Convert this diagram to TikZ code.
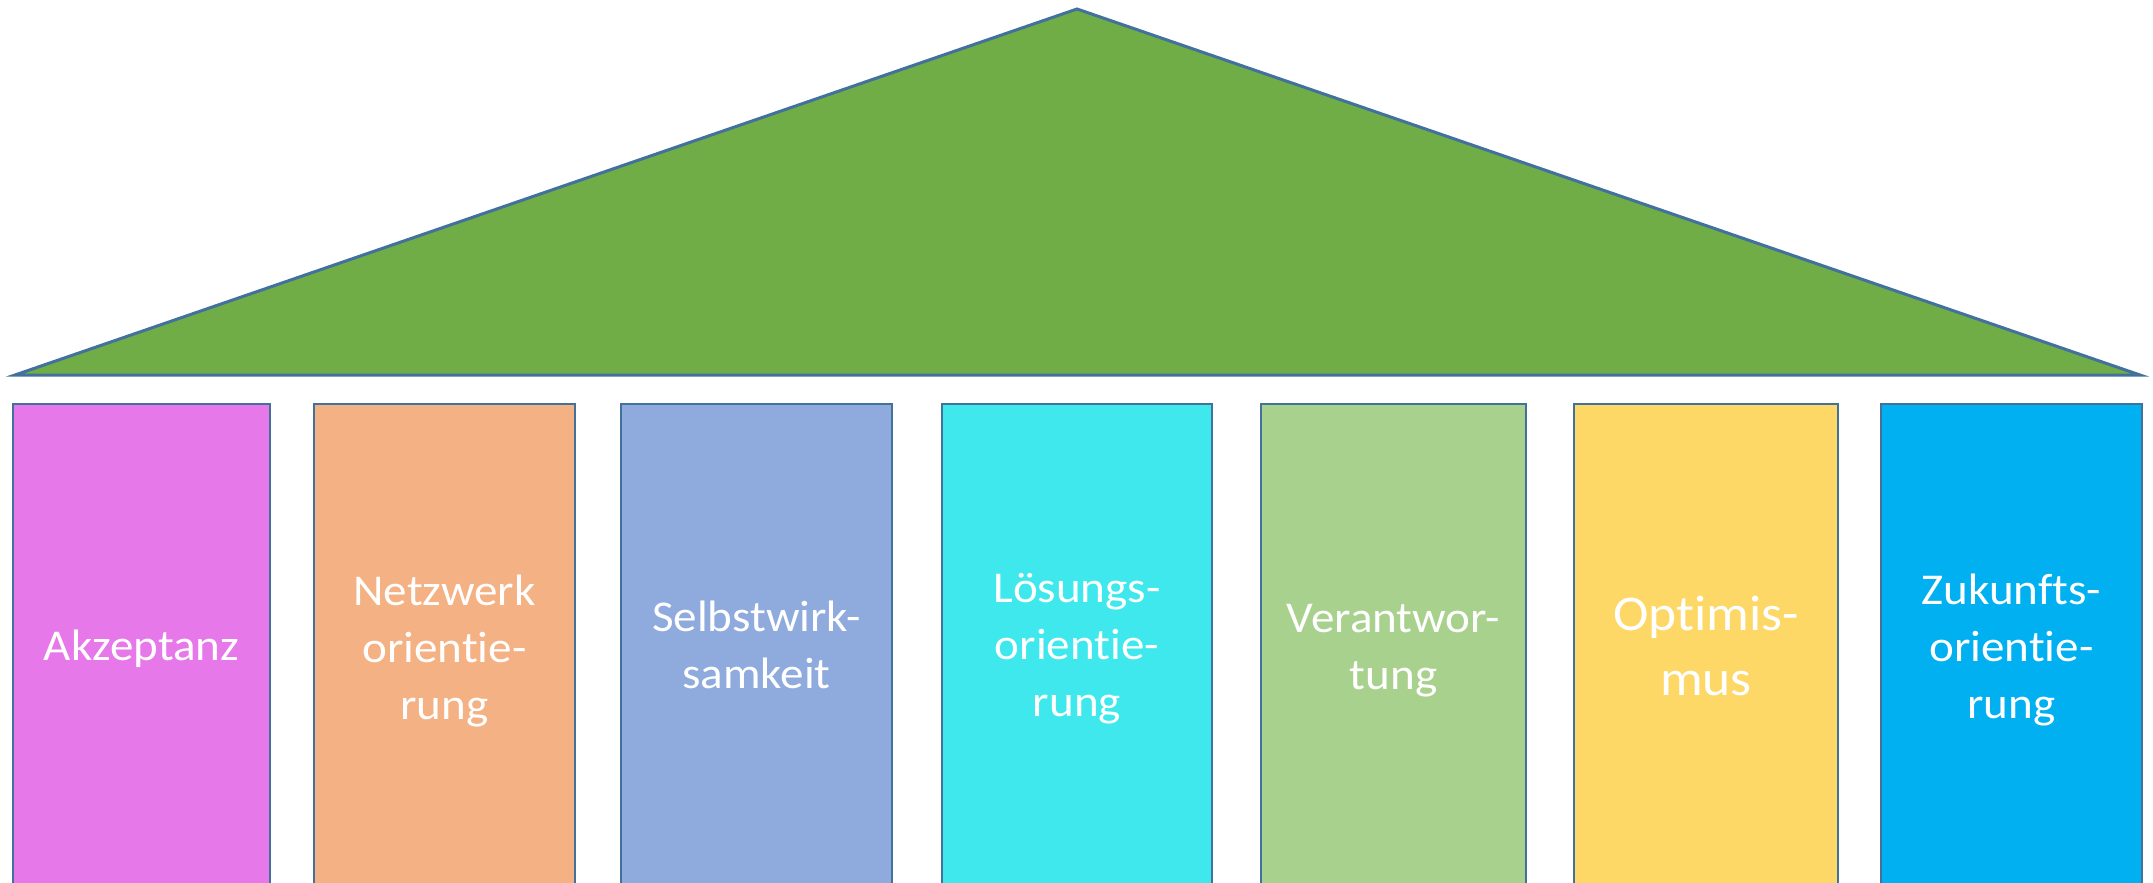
\documentclass[tikz,border=0pt]{standalone}
\usepackage{fontspec}
\setmainfont{Carlito}[FakeStretch=1.07, Ligatures=NoCommon]
\definecolor{roof}{HTML}{70AD47}
\definecolor{edge}{HTML}{41719C}
\definecolor{cA}{HTML}{E778E9}
\definecolor{cB}{HTML}{F4B183}
\definecolor{cC}{HTML}{8FAADC}
\definecolor{cD}{HTML}{3FE8EC}
\definecolor{cE}{HTML}{A9D18E}
\definecolor{cF}{HTML}{FDD867}
\definecolor{cG}{HTML}{00B0F0}
\begin{document}
\begin{tikzpicture}[x=1pt,y=-1pt,
  pillar/.style={draw=edge, line width=2.5pt},
  lbl/.style={text=white, align=center, inner sep=0pt, font=\fontsize{44}{57}\selectfont},
  biglbl/.style={text=white, align=center, inner sep=0pt, font=\fontsize{50}{65}\selectfont}]
\useasboundingbox (0,0) rectangle (2153,883);
\clip (0,0) rectangle (2153,883);
\fill[white] (0,0) rectangle (2153,883);
\draw[fill=roof, draw=edge, line width=3pt, line join=miter] (15,375) -- (1077,9) -- (2140,375) -- cycle;
\path[pillar, fill=cA] (13,404) rectangle (270,900);
\path[pillar, fill=cB] (314,404) rectangle (575,900);
\path[pillar, fill=cC] (621,404) rectangle (892,900);
\path[pillar, fill=cD] (942,404) rectangle (1212,900);
\path[pillar, fill=cE] (1261,404) rectangle (1526,900);
\path[pillar, fill=cF] (1574,404) rectangle (1838,900);
\path[pillar, fill=cG] (1881,404) rectangle (2142,900);
\node[lbl] (tA) at (141.5,648.5) {Akzeptanz};
\node[lbl] (tB) at (444.5,650.5) {Netzwerk\\orientie-\\rung};
\node[lbl] (tC) at (756.5,644.5) {Selbstwirk-\\samkeit};
\node[lbl] (tD) at (1077,649) {Lösungs-\\orientie-\\rung};
\node[lbl] (tE) at (1393.5,650.5) {Verantwor-\\tung};
\node[biglbl] (tF) at (1706,646) {Optimis-\\mus};
\node[lbl] (tG) at (2011.5,650) {Zukunfts-\\orientie-\\rung};
\end{tikzpicture}
\end{document}
